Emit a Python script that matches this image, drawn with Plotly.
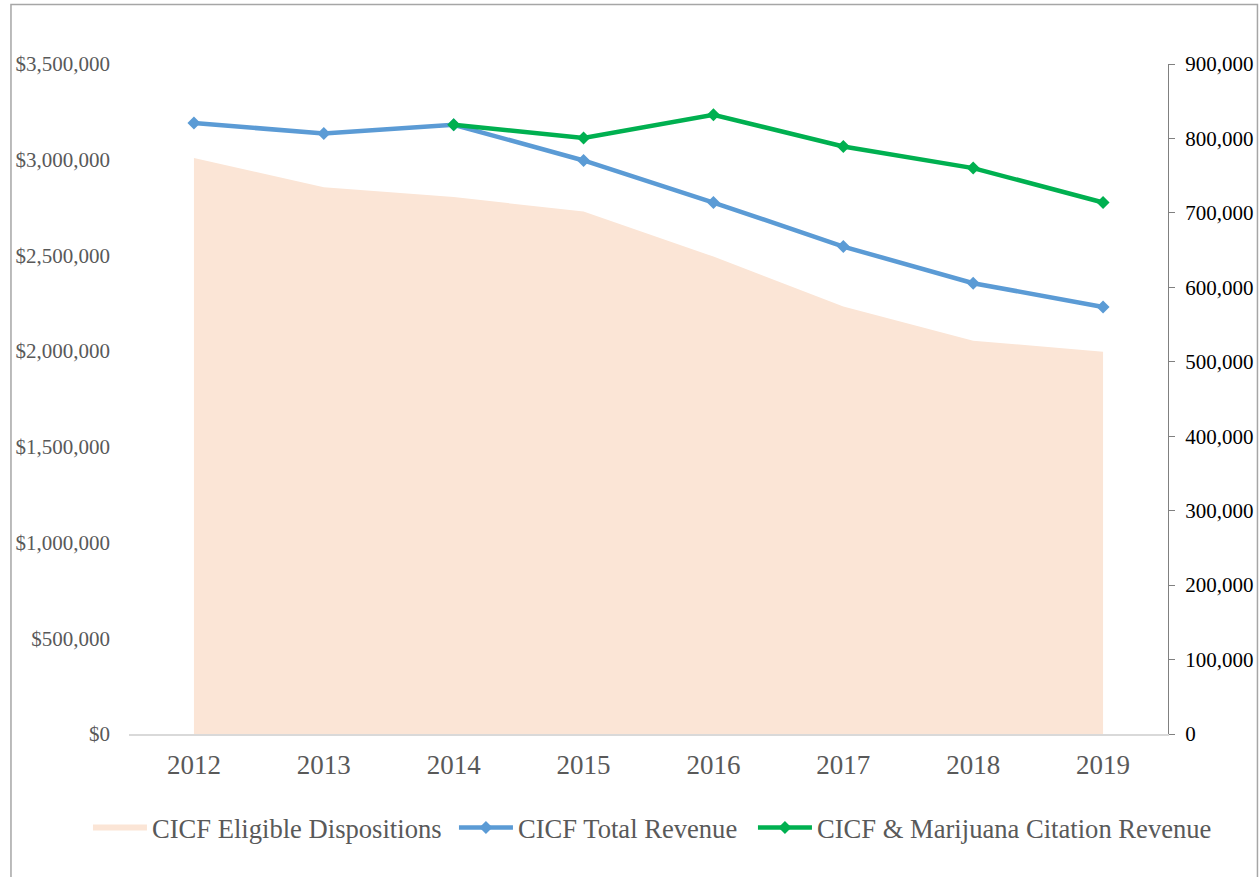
import plotly.graph_objects as go

years = ["2012", "2013", "2014", "2015", "2016", "2017", "2018", "2019"]
eligible_dispositions = [773600, 734600, 721200, 701800, 641300, 574100, 528400, 513600]
total_revenue = [3191500, 3137100, 3182600, 2996000, 2776400, 2546300, 2355000, 2231000]
mj_years = ["2014", "2015", "2016", "2017", "2018", "2019"]
mj_revenue = [3182600, 3113100, 3234900, 3069200, 2956200, 2776400]

FONT = "Times New Roman, Liberation Serif, serif"
GRAY = "#595959"

fig = go.Figure()
fig.add_trace(go.Scatter(
    x=years, y=eligible_dispositions, name="CICF Eligible Dispositions",
    mode="none", fill="tozeroy", fillcolor="#FBE5D6", yaxis="y2",
    hoverinfo="skip", legendwidth=297))
fig.add_trace(go.Scatter(
    x=years, y=total_revenue, name="CICF Total Revenue",
    mode="lines+markers", line=dict(color="#5B9BD5", width=4.5),
    marker=dict(symbol="diamond", size=10, color="#5B9BD5"), legendwidth=230))
fig.add_trace(go.Scatter(
    x=mj_years, y=mj_revenue, name="CICF & Marijuana Citation Revenue",
    mode="lines+markers", line=dict(color="#00B050", width=4.5),
    marker=dict(symbol="diamond", size=10, color="#00B050"), legendwidth=400))

fig.update_layout(
    width=1259, height=877,
    margin=dict(l=129, r=91, t=64, b=143, autoexpand=False),
    paper_bgcolor="white", plot_bgcolor="white",
    font=dict(family=FONT, color=GRAY),
    showlegend=True,
    legend=dict(orientation="h", x=-0.0395, xanchor="left", y=-0.14, yanchor="middle",
                font=dict(size=26.6, color=GRAY, family=FONT), traceorder="normal",
                itemwidth=54),
    xaxis=dict(type="category", range=[-0.5, 7.5], showgrid=False, zeroline=False,
               showline=True, linecolor="#D9D9D9", linewidth=1.5, ticks="",
               automargin=False,
               tickfont=dict(size=27, color=GRAY, family=FONT), ticklabelstandoff=6),
    yaxis=dict(range=[0, 3500000], dtick=500000, tickprefix="$", tickformat=",",
               showgrid=False, zeroline=False, showline=False, ticks="",
               automargin=False,
               tickfont=dict(size=21, color=GRAY, family=FONT), ticklabelstandoff=18),
    yaxis2=dict(range=[0, 900000], dtick=100000, tickformat=",", overlaying="y",
                side="right", showgrid=False, zeroline=False, showline=True,
                automargin=False,
                linecolor="#808080", linewidth=1.2, ticks="outside", ticklen=6,
                tickcolor="#808080", tickwidth=1.2,
                tickfont=dict(size=21, color="#000000", family=FONT), ticklabelstandoff=6),
    shapes=[dict(type="rect", xref="paper", yref="paper",
                 x0=-0.1136, x1=1.0861, y0=-0.22, y1=1.0888,
                 line=dict(color="#A6A6A6", width=1.5), fillcolor="rgba(0,0,0,0)",
                 layer="below")],
)

fig.write_html("out.html", config={"displayModeBar": False},
               post_script="document.body.style.margin='0';document.body.style.overflow='hidden';")
